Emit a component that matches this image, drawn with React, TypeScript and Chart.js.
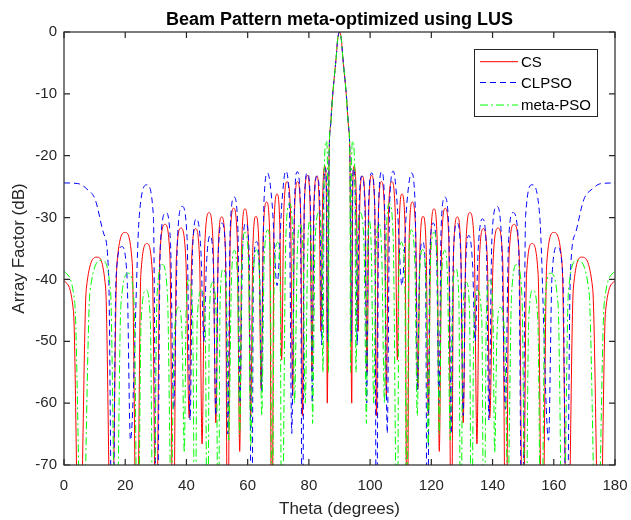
import React, { useEffect, useRef } from "react";
import { Chart, registerables } from "chart.js";

Chart.register(...registerables);

const FONT = "'Liberation Sans', Arial, Helvetica, sans-serif";

const chartTitle = "Beam Pattern meta-optimized using LUS";
const xLabel = "Theta (degrees)";
const yLabel = "Array Factor (dB)";
const seriesNames = ["CS", "CLPSO", "meta-PSO"];
const seriesColors = ["#ff0000", "#0000ff", "#00ff00"];
const xTicks = [0, 20, 40, 60, 80, 100, 120, 140, 160, 180];
const yTicks = [0, -10, -20, -30, -40, -50, -60, -70];

// [theta (deg), array factor (dB)]
const csPoints: [number, number][] = [
  [0, -40.2], [3.1, -45.2], [5.0, -90],
  [7.3, -41.4], [10.8, -36.4], [13.6, -41.4], [15.5, -90],
  [17.3, -37.4], [20.0, -32.4], [22.3, -37.4], [23.8, -90],
  [25.1, -39.2], [27.1, -34.2], [28.9, -39.2], [30.1, -90],
  [31.3, -36.1], [33.0, -31.1], [34.6, -36.1], [35.7, -90],
  [36.7, -36.7], [38.2, -31.7], [39.8, -36.7], [40.9, -62.4],
  [41.7, -36.8], [43.0, -31.8], [44.3, -36.8], [45.1, -66.6],
  [46.0, -34.2], [47.4, -29.2], [48.7, -34.2], [49.6, -63.2],
  [50.4, -34.9], [51.5, -29.9], [52.7, -34.9], [53.5, -90],
  [54.3, -33.5], [55.4, -28.5], [56.6, -33.5], [57.4, -67.8],
  [58.1, -33.6], [59.1, -28.6], [60.2, -33.6], [61.0, -62],
  [61.7, -34.8], [62.7, -29.8], [63.7, -34.8], [64.4, -57.7],
  [65.1, -32.5], [66.2, -27.5], [67.2, -32.5], [67.9, -90],
  [68.6, -31.2], [69.6, -26.2], [70.5, -31.2], [71.1, -53],
  [71.8, -29.2], [72.9, -24.2], [74.0, -29.2], [74.7, -58.8],
  [75.3, -29.2], [76.3, -24.2], [77.3, -29.2], [77.9, -62],
  [78.5, -28.2], [79.5, -23.2], [80.4, -28.2], [81.0, -55],
  [81.6, -28.3], [82.6, -23.3], [83.4, -28.3], [83.9, -48.4],
  [84.5, -26.7], [85.3, -21.7], [85.7, -26.7], [86.0, -60],
  [86.6, -20.3], [87.1, -15], [87.8, -10], [88.3, -7.3], [88.9, -4.2], [89.4, -1.2], [90, 0],
  [90.6, -1.2], [91.1, -4.2], [91.7, -7.3], [92.2, -10], [92.9, -15], [93.4, -20.3],
  [94.0, -60], [94.3, -26.7], [94.7, -21.7], [95.5, -26.7], [96.1, -48.4],
  [96.6, -28.3], [97.4, -23.3], [98.4, -28.3], [99.0, -55],
  [99.6, -28.2], [100.5, -23.2], [101.5, -28.2], [102.1, -62],
  [102.7, -29.2], [103.7, -24.2], [104.7, -29.2], [105.3, -58.8],
  [106.0, -29.2], [107.1, -24.2], [108.2, -29.2], [108.9, -53],
  [109.5, -31.2], [110.4, -26.2], [111.4, -31.2], [112.1, -90],
  [112.8, -32.5], [113.8, -27.5], [114.9, -32.5], [115.6, -57.7],
  [116.3, -34.8], [117.3, -29.8], [118.3, -34.8], [119.0, -62],
  [119.8, -33.6], [120.9, -28.6], [121.9, -33.6], [122.6, -67.8],
  [123.4, -33.5], [124.6, -28.5], [125.7, -33.5], [126.5, -90],
  [127.3, -34.9], [128.5, -29.9], [129.6, -34.9], [130.4, -63.2],
  [131.3, -34.2], [132.6, -29.2], [134.0, -34.2], [134.9, -66.6],
  [135.7, -36.8], [137.0, -31.8], [138.3, -36.8], [139.1, -62.4],
  [140.2, -36.7], [141.8, -31.7], [143.3, -36.7], [144.3, -90],
  [145.4, -36.1], [147.0, -31.1], [148.7, -36.1], [149.9, -90],
  [151.1, -39.2], [152.9, -34.2], [154.9, -39.2], [156.2, -90],
  [157.7, -37.4], [160.0, -32.4], [162.7, -37.4], [164.5, -90],
  [166.4, -41.4], [169.2, -36.4], [172.7, -41.4], [175.0, -90],
  [176.9, -45.2], [180, -40.2],
];

const clpsoPoints: [number, number][] = [
  [0, -24.4], [4.5, -24.5], [7.5, -25.4], [10.2, -27.1], [12.9, -32.5], [14.6, -39.5], [15.8, -90],
  [17.0, -39.7], [18.9, -34.7], [20.6, -39.7], [21.7, -66],
  [24.6, -29.7], [27.1, -24.7], [29.2, -29.7], [30.3, -90],
  [31.5, -34.2], [33.3, -29.2], [34.8, -34.2], [35.8, -61],
  [37.1, -33.2], [38.6, -28.2], [40.2, -33.2], [41.2, -62.7],
  [42.0, -35.2], [43.3, -30.2], [44.7, -35.2], [45.7, -50],
  [46.5, -37.9], [47.7, -32.9], [48.8, -37.9], [49.6, -62],
  [50.4, -35.9], [51.6, -30.9], [52.8, -35.9], [53.5, -65],
  [54.3, -31.7], [55.6, -26.7], [56.8, -31.7], [57.5, -60],
  [58.3, -35.9], [59.4, -30.9], [60.5, -35.9], [61.3, -90],
  [61.9, -38.9], [62.9, -33.9], [63.9, -38.9], [64.5, -58],
  [65.3, -27.8], [66.5, -22.8], [68.0, -27.8], [69.6, -41],
  [71.2, -27.5], [72.4, -22.5], [73.6, -27.5], [74.4, -64.9],
  [75.3, -27.6], [76.2, -22.6], [77.2, -27.6], [77.9, -90],
  [78.5, -27.8], [79.5, -22.8], [80.5, -27.8], [81.1, -60],
  [81.7, -28.3], [82.7, -23.3], [83.6, -28.3], [84.2, -50.6],
  [84.8, -27], [85.4, -22.0], [85.8, -27], [86.1, -50],
  [86.6, -20.3], [87.1, -15], [87.8, -10], [88.3, -7.3], [88.9, -4.2], [89.4, -1.2], [90, 0],
  [90.6, -1.2], [91.1, -4.2], [91.7, -7.3], [92.2, -10], [92.9, -15], [93.4, -20.3],
  [93.9, -50], [94.2, -27], [94.6, -22.0], [95.2, -27], [95.8, -50.6],
  [96.4, -28.3], [97.3, -23.3], [98.3, -28.3], [98.9, -60],
  [99.5, -27.8], [100.5, -22.8], [101.5, -27.8], [102.1, -90],
  [102.8, -27.6], [103.8, -22.6], [104.7, -27.6], [105.6, -64.9],
  [106.4, -27.5], [107.6, -22.5], [108.8, -27.5], [110.4, -41],
  [112.0, -27.8], [113.5, -22.8], [114.7, -27.8], [115.5, -58],
  [116.1, -38.9], [117.1, -33.9], [118.1, -38.9], [118.7, -90],
  [119.5, -35.9], [120.6, -30.9], [121.7, -35.9], [122.5, -60],
  [123.2, -31.7], [124.4, -26.7], [125.7, -31.7], [126.5, -65],
  [127.2, -35.9], [128.4, -30.9], [129.6, -35.9], [130.4, -62],
  [131.2, -37.9], [132.3, -32.9], [133.5, -37.9], [134.3, -50],
  [135.3, -35.2], [136.7, -30.2], [138.0, -35.2], [138.8, -62.7],
  [139.8, -33.2], [141.4, -28.2], [142.9, -33.2], [144.2, -61],
  [145.2, -34.2], [146.7, -29.2], [148.5, -34.2], [149.7, -90],
  [150.8, -29.7], [152.9, -24.7], [155.4, -29.7], [158.3, -66],
  [159.4, -39.7], [161.1, -34.7], [163.0, -39.7], [164.2, -90],
  [165.4, -39.5], [167.1, -32.5], [169.8, -27.1], [172.5, -25.4], [175.5, -24.5], [180, -24.4],
];

const metaPsoPoints: [number, number][] = [
  [0, -38.7], [3.5, -43.7], [5.9, -90],
  [8.5, -41.9], [12.4, -36.9], [15.2, -41.9], [17.0, -90],
  [18.6, -44], [21.1, -39.0], [22.9, -44], [24.1, -90],
  [25.2, -46.7], [26.8, -41.7], [28.2, -46.7], [29.2, -90],
  [30.4, -42.6], [32.1, -37.6], [33.8, -42.6], [35.0, -75],
  [36.0, -49.5], [37.5, -44.5], [38.6, -49.5], [39.3, -68],
  [39.9, -45.1], [40.8, -40.1], [42.0, -45.1], [42.8, -90],
  [43.5, -46.7], [45.0, -41.7], [46.1, -46.7], [46.9, -90],
  [47.5, -45.5], [48.5, -40.5], [49.7, -45.5], [50.4, -90],
  [51.0, -43.3], [52.0, -38.3], [53.1, -43.3], [53.8, -66],
  [54.7, -40.3], [55.6, -35.3], [56.7, -40.3], [57.4, -65],
  [58.1, -37.4], [59.1, -32.4], [60.3, -37.4], [61.0, -67],
  [61.8, -40.2], [62.9, -35.2], [63.9, -40.2], [64.6, -62],
  [65.4, -37], [66.6, -32.0], [67.4, -37], [68.0, -90],
  [68.7, -39], [69.8, -34], [70.6, -39], [71.1, -90],
  [72.5, -32.7], [73.7, -27.7], [74.7, -32.7], [75.3, -60],
  [76.2, -36], [77.1, -31], [78.1, -36], [78.8, -60],
  [79.6, -35.5], [80.2, -30.5], [80.8, -35.5], [81.2, -63.3],
  [82.0, -34.2], [83.3, -29.2], [84.1, -34.2], [84.6, -55],
  [85.0, -22.6], [85.7, -17.6], [86.1, -22.6], [86.4, -55],
  [86.6, -20.3], [87.1, -15], [87.8, -10], [88.3, -7.3], [88.9, -4.2], [89.4, -1.2], [90, 0],
  [90.6, -1.2], [91.1, -4.2], [91.7, -7.3], [92.2, -10], [92.9, -15], [93.4, -20.3],
  [93.6, -55], [93.9, -22.6], [94.3, -17.6], [95.0, -22.6], [95.4, -55],
  [95.9, -34.2], [96.7, -29.2], [98.0, -34.2], [98.8, -63.3],
  [99.2, -35.5], [99.8, -30.5], [100.4, -35.5], [101.2, -60],
  [101.9, -36], [102.9, -31], [103.8, -36], [104.7, -60],
  [105.3, -32.7], [106.3, -27.7], [107.5, -32.7], [108.9, -90],
  [109.4, -39], [110.2, -34], [111.3, -39], [112.0, -90],
  [112.6, -37], [113.4, -32.0], [114.6, -37], [115.4, -62],
  [116.1, -40.2], [117.1, -35.2], [118.2, -40.2], [119.0, -67],
  [119.7, -37.4], [120.9, -32.4], [121.9, -37.4], [122.6, -65],
  [123.3, -40.3], [124.4, -35.3], [125.3, -40.3], [126.2, -66],
  [126.9, -43.3], [128.0, -38.3], [129.0, -43.3], [129.6, -90],
  [130.3, -45.5], [131.5, -40.5], [132.5, -45.5], [133.1, -90],
  [133.9, -46.7], [135.0, -41.7], [136.5, -46.7], [137.2, -90],
  [138.0, -45.1], [139.2, -40.1], [140.1, -45.1], [140.7, -68],
  [141.4, -49.5], [142.5, -44.5], [144.0, -49.5], [145.0, -75],
  [146.2, -42.6], [147.9, -37.6], [149.6, -42.6], [150.8, -90],
  [151.8, -46.7], [153.2, -41.7], [154.8, -46.7], [155.9, -90],
  [157.1, -44], [158.9, -39.0], [161.4, -44], [163.0, -90],
  [164.8, -41.9], [167.6, -36.9], [171.5, -41.9], [174.1, -90],
  [176.5, -43.7], [180, -38.7],
];

const seriesData = [csPoints, clpsoPoints, metaPsoPoints];
const seriesDash = [[], [6, 4], [8, 3, 2, 3]];

const framePlugin = {
  id: "matlabFrame",
  afterDatasetsDraw(chart: any) {
    const { ctx, chartArea: a, scales } = chart;
    const xs = scales.x;
    const ys = scales.y;
    ctx.save();
    // axes box
    ctx.strokeStyle = "#262626";
    ctx.lineWidth = 1.2;
    ctx.setLineDash([]);
    ctx.strokeRect(a.left, a.top, a.right - a.left, a.bottom - a.top);
    // inward ticks on all four sides
    const tl = 6;
    ctx.beginPath();
    xTicks.forEach((t) => {
      const px = xs.getPixelForValue(t);
      ctx.moveTo(px, a.bottom);
      ctx.lineTo(px, a.bottom - tl);
      ctx.moveTo(px, a.top);
      ctx.lineTo(px, a.top + tl);
    });
    yTicks.forEach((t) => {
      const py = ys.getPixelForValue(t);
      ctx.moveTo(a.left, py);
      ctx.lineTo(a.left + tl, py);
      ctx.moveTo(a.right, py);
      ctx.lineTo(a.right - tl, py);
    });
    ctx.stroke();

    // title
    ctx.fillStyle = "#000000";
    ctx.font = `bold 18px ${FONT}`;
    ctx.textAlign = "center";
    ctx.textBaseline = "alphabetic";
    ctx.fillText(chartTitle, (a.left + a.right) / 2, 25);

    // legend
    const bx = 474, by = 49, bw = 123, bh = 67;
    ctx.fillStyle = "#ffffff";
    ctx.fillRect(bx, by, bw, bh);
    ctx.strokeStyle = "#262626";
    ctx.lineWidth = 1;
    ctx.strokeRect(bx + 0.5, by + 0.5, bw, bh);
    const rows = [61.7, 82.5, 105];
    ctx.font = `15px ${FONT}`;
    ctx.textAlign = "left";
    ctx.textBaseline = "middle";
    seriesNames.forEach((name, i) => {
      ctx.strokeStyle = seriesColors[i];
      ctx.lineWidth = 1;
      ctx.setLineDash(seriesDash[i]);
      ctx.beginPath();
      ctx.moveTo(480, rows[i]);
      ctx.lineTo(518, rows[i]);
      ctx.stroke();
      ctx.setLineDash([]);
      ctx.fillStyle = "#000000";
      ctx.fillText(name, 521, rows[i] + 1);
    });
    ctx.restore();
  },
};

export default function App() {
  const canvasRef = useRef<HTMLCanvasElement | null>(null);

  useEffect(() => {
    const canvas = canvasRef.current;
    if (!canvas) return;
    Chart.defaults.font.family = FONT;
    const order = [2, 1, 0];
    const chart = new Chart(canvas, {
      type: "line",
      data: {
        datasets: order.map((i) => ({
          label: seriesNames[i],
          data: seriesData[i].map(([x, y]) => ({ x, y })),
          borderColor: seriesColors[i],
          backgroundColor: seriesColors[i],
          borderWidth: 1,
          borderDash: seriesDash[i],
          pointRadius: 0,
          fill: false,
          cubicInterpolationMode: "monotone" as const,
        })),
      },
      options: {
        responsive: false,
        animation: false,
        events: [],
        layout: { padding: { top: 32, right: 16, left: 0, bottom: 0 } },
        plugins: {
          legend: { display: false },
          tooltip: { enabled: false },
          title: { display: false },
        },
        scales: {
          x: {
            type: "linear",
            min: 0,
            max: 180,
            ticks: {
              stepSize: 20,
              padding: 12,
              color: "#262626",
              font: { size: 15, family: FONT },
              maxRotation: 0,
            },
            grid: { display: false, drawTicks: false },
            border: { display: false },
            title: {
              display: true,
              text: xLabel,
              color: "#262626",
              font: { size: 17, family: FONT },
              padding: { top: 0, bottom: 0 },
            },
            afterFit: (s: any) => {
              s.height = 55;
              s.paddingLeft = 0;
              s.paddingRight = 0;
            },
          },
          y: {
            type: "linear",
            min: -70,
            max: 0,
            ticks: {
              stepSize: 10,
              padding: 7,
              color: "#262626",
              font: { size: 15, family: FONT },
            },
            grid: { display: false, drawTicks: false },
            border: { display: false },
            title: {
              display: true,
              text: yLabel,
              color: "#262626",
              font: { size: 17, family: FONT },
              padding: { top: 9, bottom: 0 },
            },
            afterFit: (s: any) => {
              s.width = 64;
              s.paddingTop = 0;
              s.paddingBottom = 0;
            },
          },
        },
      },
      plugins: [framePlugin],
    });
    return () => chart.destroy();
  }, []);

  return (
    <div style={{ position: "fixed", left: 0, top: 0, width: 631, height: 520, background: "#ffffff" }}>
      <canvas ref={canvasRef} width={631} height={520} />
    </div>
  );
}
